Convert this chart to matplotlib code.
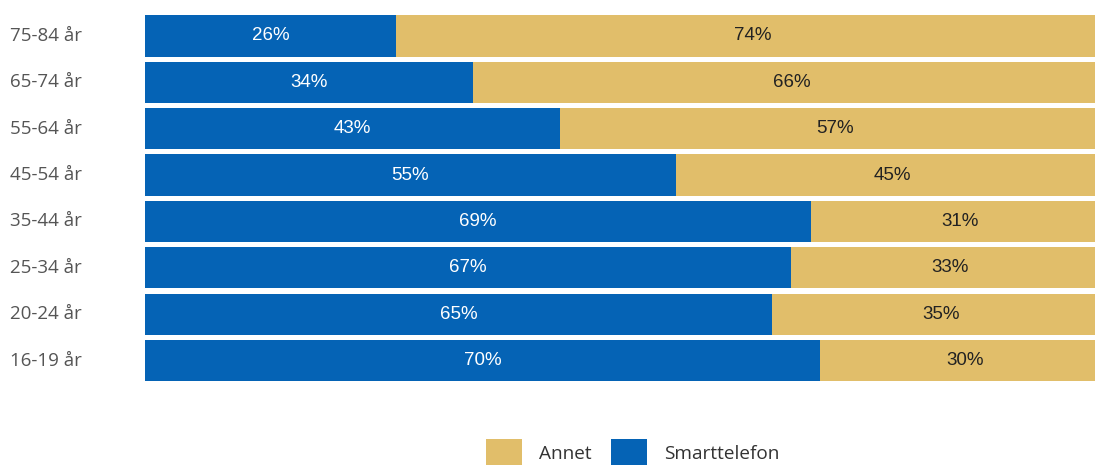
import numpy as np
import matplotlib.pyplot as plt
from matplotlib.patches import Patch

# data (bottom to top)
age_groups = ["16-19 år", "20-24 år", "25-34 år", "35-44 år",
              "45-54 år", "55-64 år", "65-74 år", "75-84 år"]
smarttelefon = [70, 65, 67, 69, 55, 43, 34, 26]
annet = [30, 35, 33, 31, 45, 57, 66, 74]

BLUE = "#0563B5"
GOLD = "#E1BE6A"

fig = plt.figure(figsize=(10.95, 4.65), dpi=100)
ax = fig.add_axes([0.1324, 0.1748, 0.881, 0.7977])

y = np.arange(len(age_groups))
ax.barh(y, smarttelefon, height=0.89, color=BLUE)
ax.barh(y, annet, left=smarttelefon, height=0.89, color=GOLD)

for i in range(len(age_groups)):
    s, a = smarttelefon[i], annet[i]
    ax.text(s / 2, i, f"{s}%", ha="center", va="center", color="white",
            fontsize=13.5, family="Liberation Sans")
    ax.text(s + a / 2, i, f"{a}%", ha="center", va="center", color="#222222",
            fontsize=13.5, family="Liberation Sans")
    ax.text(-0.14, i, age_groups[i], transform=ax.get_yaxis_transform(),
            ha="left", va="center", color="#555555", fontsize=13.5,
            family="Open Sans")

ax.set_xlim(0, 100)
ax.set_ylim(-0.5, len(age_groups) - 0.5)
ax.axis("off")

handles = [Patch(facecolor=GOLD, label="Annet"),
           Patch(facecolor=BLUE, label="Smarttelefon")]
fig.legend(handles=handles, loc="center", bbox_to_anchor=(0.578, 0.025),
           ncol=2, frameon=False, handlelength=1.9, handleheight=2.0,
           handletextpad=0.9, columnspacing=1.0,
           prop={"family": "Open Sans", "size": 13.7})
for t in fig.legends[0].get_texts():
    t.set_color("#333333")

fig.savefig("out.png", dpi=100)
